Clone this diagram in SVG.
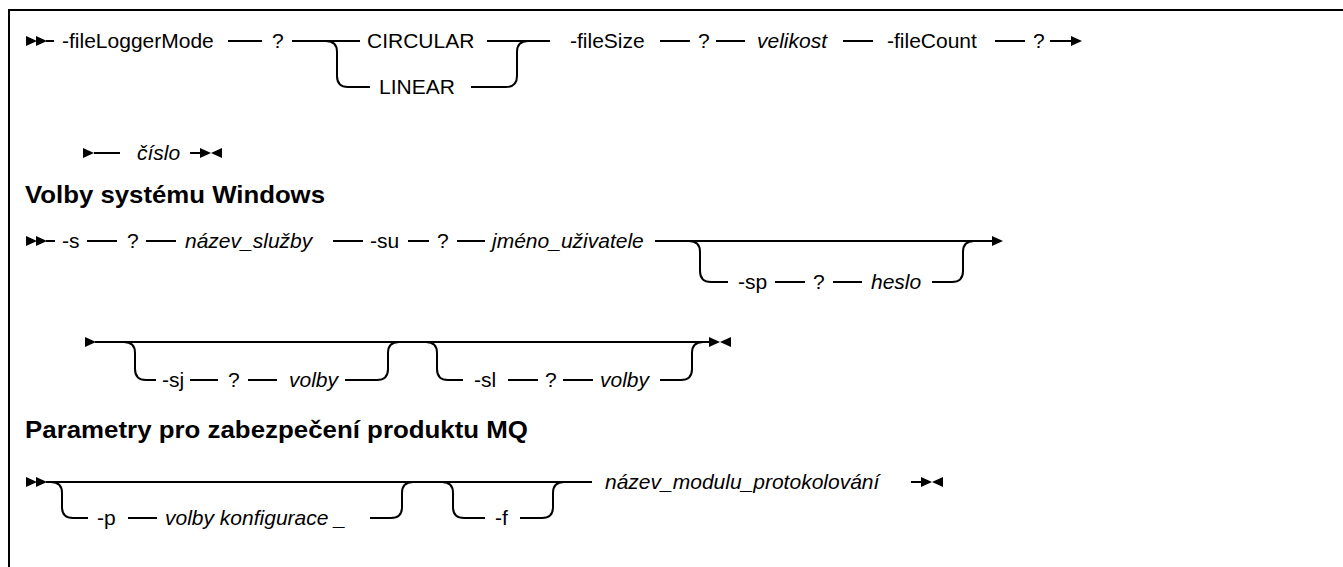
<svg xmlns="http://www.w3.org/2000/svg" width="1343" height="567" viewBox="0 0 1343 567">
<style>
.t{font-family:"Liberation Sans",Arial,sans-serif;font-size:21px;fill:#000}
.i{font-style:italic}
.h{font-family:"Liberation Sans",Arial,sans-serif;font-size:24px;font-weight:bold;fill:#000}
.ln{stroke:#000;stroke-width:2;fill:none}
.ar{fill:#000;stroke:none}
</style>
<defs>
<path id="r" d="M0,-5 L11,0 L0,5 Z"/>
<path id="l" d="M11,-5 L0,0 L11,5 Z"/>
</defs>
<rect width="1343" height="567" fill="#fff"/>
<path class="ln" d="M9,567 V10 H1343"/>

<g id="connectors">
<!-- row 1 -->
<use href="#r" class="ar" x="26" y="41"/><use href="#r" class="ar" x="36" y="41"/>
<path class="ln" d="M46,41 H54 M228,41 H262 M292,41 H360 M487,41 H550 M660,41 H690 M716,41 H745 M843,41 H873 M995,41 H1025 M1050,41 H1072"/>
<path class="ln" d="M326,41 Q337,41 337,52 V76 Q337,87 348,87 H370"/>
<path class="ln" d="M471,87 H506 Q517,87 517,76 V52 Q517,41 528,41"/>
<use href="#r" class="ar" x="1071" y="41"/>
<!-- row 2 -->
<use href="#r" class="ar" x="83" y="153"/>
<path class="ln" d="M94,153 H120 M190,153 H201"/>
<use href="#r" class="ar" x="200" y="153"/><use href="#l" class="ar" x="211" y="153"/>
<!-- row 3 -->
<use href="#r" class="ar" x="26" y="241"/><use href="#r" class="ar" x="36" y="241"/>
<path class="ln" d="M46,241 H55 M87,241 H117 M146,241 H176 M333,241 H363 M408,241 H429 M457,241 H485 M655,241 H993"/>
<path class="ln" d="M689,241 Q700,241 700,252 V271 Q700,282 711,282 H728 M775,282 H805 M833,282 H862 M932,282 H952 Q963,282 963,271 V252 Q963,241 974,241"/>
<use href="#r" class="ar" x="992" y="241"/>
<!-- row 4 -->
<use href="#r" class="ar" x="85" y="342"/>
<path class="ln" d="M95,342 H710"/>
<path class="ln" d="M124,342 Q135,342 135,353 V369 Q135,380 146,380 H156 M190,380 H218 M248,380 H277 M345,380 H377 Q388,380 388,369 V353 Q388,342 399,342"/>
<path class="ln" d="M426,342 Q437,342 437,353 V369 Q437,380 448,380 H463 M508,380 H538 M563,380 H593 M660,380 H681 Q692,380 692,369 V353 Q692,342 703,342"/>
<use href="#r" class="ar" x="709" y="342"/><use href="#l" class="ar" x="720" y="342"/>
<!-- row 5 -->
<use href="#r" class="ar" x="26" y="482"/><use href="#r" class="ar" x="36" y="482"/>
<path class="ln" d="M46,482 H592"/>
<path class="ln" d="M51,482 Q62,482 62,493 V507 Q62,518 73,518 H88 M128,518 H157 M370,518 H391 Q402,518 402,507 V493 Q402,482 413,482"/>
<path class="ln" d="M442,482 Q453,482 453,493 V507 Q453,518 464,518 H485 M520,518 H542 Q553,518 553,507 V493 Q553,482 564,482"/>
<path class="ln" d="M911,482 H922"/>
<use href="#r" class="ar" x="921" y="482"/><use href="#l" class="ar" x="932" y="482"/>
</g>

<g id="n-fileLoggerMode"><text class="t" x="62" y="48">-fileLoggerMode</text></g>
<g id="n-q1"><text class="t" x="272" y="48">?</text></g>
<g id="n-circular"><text class="t" x="367" y="48">CIRCULAR</text></g>
<g id="n-linear"><text class="t" x="379" y="94">LINEAR</text></g>
<g id="n-fileSize"><text class="t" x="570" y="48">-fileSize</text></g>
<g id="n-q2"><text class="t" x="698" y="48">?</text></g>
<g id="n-velikost"><text class="t i" x="757" y="48">velikost</text></g>
<g id="n-fileCount"><text class="t" x="887" y="48">-fileCount</text></g>
<g id="n-q3"><text class="t" x="1033" y="48">?</text></g>
<g id="n-cislo"><text class="t i" x="137" y="160">číslo</text></g>

<g id="h-windows"><text class="h" x="25" y="203" textLength="300" lengthAdjust="spacingAndGlyphs">Volby systému Windows</text></g>

<g id="n-s"><text class="t" x="62" y="248">-s</text></g>
<g id="n-q4"><text class="t" x="127" y="248">?</text></g>
<g id="n-nazev-sluzby"><text class="t i" x="185" y="248">název_služby</text></g>
<g id="n-su"><text class="t" x="370" y="248">-su</text></g>
<g id="n-q5"><text class="t" x="437" y="248">?</text></g>
<g id="n-jmeno"><text class="t i" x="492" y="248">jméno_uživatele</text></g>
<g id="n-sp"><text class="t" x="738" y="289">-sp</text></g>
<g id="n-q6"><text class="t" x="813" y="289">?</text></g>
<g id="n-heslo"><text class="t i" x="871" y="289">heslo</text></g>

<g id="n-sj"><text class="t" x="162" y="387">-sj</text></g>
<g id="n-q7"><text class="t" x="228" y="387">?</text></g>
<g id="n-volby1"><text class="t i" x="289" y="387">volby</text></g>
<g id="n-sl"><text class="t" x="474" y="387">-sl</text></g>
<g id="n-q8"><text class="t" x="545" y="387">?</text></g>
<g id="n-volby2"><text class="t i" x="600" y="387">volby</text></g>

<g id="h-mq"><text class="h" x="25" y="438" textLength="503" lengthAdjust="spacingAndGlyphs">Parametry pro zabezpečení produktu MQ</text></g>

<g id="n-p"><text class="t" x="97" y="525">-p</text></g>
<g id="n-volby-konf"><text class="t i" x="165" y="525">volby konfigurace _</text></g>
<g id="n-f"><text class="t" x="495" y="525">-f</text></g>
<g id="n-modul"><text class="t i" x="605" y="489">název_modulu_protokolování</text></g>
</svg>
